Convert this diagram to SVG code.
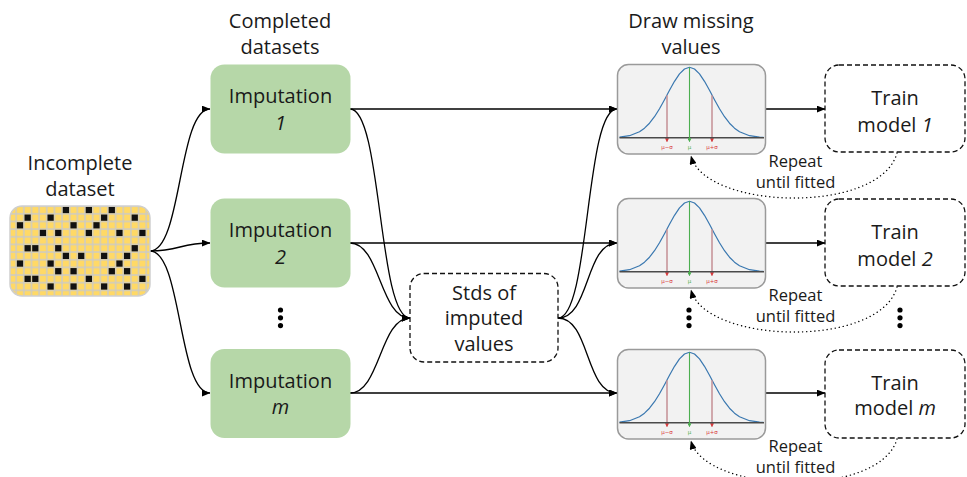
<svg xmlns="http://www.w3.org/2000/svg" xmlns:xlink="http://www.w3.org/1999/xlink" width="967" height="477" viewBox="0 0 967 477">
  <style>
    .lbl { font-family: "Open Sans", "Liberation Sans", sans-serif; font-size: 20px; fill: #1a1a1a; text-anchor: middle; }
    .small { font-family: "Open Sans", "Liberation Sans", sans-serif; font-size: 16.5px; fill: #1a1a1a; text-anchor: middle; }
    .it { font-style: italic; }
    .imp { fill: #b6d7a8; }
    .dash { fill: #ffffff; stroke: #111; stroke-width: 1.3; stroke-dasharray: 5 3; }
    .plot { fill: #f2f2f2; stroke: #9a9a9a; stroke-width: 1.5; }
    .edge { fill: none; stroke: #000; stroke-width: 1.3; marker-end: url(#arr); }
    .loop { fill: none; stroke: #000; stroke-width: 1.4; stroke-dasharray: 0.1 4; stroke-linecap: round; marker-end: url(#arr); }
    .tick { font-family: "DejaVu Sans", sans-serif; font-size: 5.5px; text-anchor: middle; }
  </style>
  <defs>
    <marker id="arr" viewBox="0 0 10 8" refX="9.5" refY="4" markerWidth="9" markerHeight="7" orient="auto" markerUnits="userSpaceOnUse">
      <path d="M0,0 L10,4 L0,8 z" fill="#000"/>
    </marker>
    <marker id="tipR" viewBox="0 0 6 6" refX="5" refY="3" markerWidth="4" markerHeight="4" orient="auto" markerUnits="userSpaceOnUse">
      <path d="M0,0 L6,3 L0,6 z" fill="#d9383a"/>
    </marker>
    <marker id="tipG" viewBox="0 0 6 6" refX="5" refY="3" markerWidth="4" markerHeight="4" orient="auto" markerUnits="userSpaceOnUse">
      <path d="M0,0 L6,3 L0,6 z" fill="#4caf50"/>
    </marker>
    <pattern id="cells" patternUnits="userSpaceOnUse" x="8.525" y="206.175" width="7.65" height="7.65">
      <rect x="0.7" y="0.7" width="6.25" height="6.25" fill="#ffd966"/>
    </pattern>
    <clipPath id="gridClip">
      <rect x="10" y="206" width="140" height="90" rx="12"/>
    </clipPath>
    <rect id="blk" width="6.25" height="6.25" fill="#111"/>
    <!-- normal density curve drawn in box-local coordinates (148 x 89.5) -->
    <g id="bell">
      <polyline fill="none" stroke="#3a78b0" stroke-width="1.2" stroke-linejoin="round"
        points="2,72.64 12,71.19 22,67.24 27,63.67 32,58.71 37,52.21 42,44.26 47,35.23 52,25.77 57,16.83 62,9.42 67,4.52 72,2.8 77,4.52 82,9.42 87,16.83 92,25.77 97,35.23 102,44.26 107,52.21 112,58.71 117,63.67 122,67.24 132,71.19 142,72.64 146,72.9"/>
      <line x1="49.5" y1="30.8" x2="49.5" y2="77" stroke="#c48f94" stroke-width="1.5" marker-end="url(#tipR)"/>
      <line x1="94.5" y1="30.8" x2="94.5" y2="77" stroke="#c48f94" stroke-width="1.5" marker-end="url(#tipR)"/>
      <line x1="2" y1="73.2" x2="146.5" y2="73.2" stroke="#4a4a4a" stroke-width="1.5"/>
      <line x1="72" y1="2.8" x2="72" y2="77" stroke="#4caf50" stroke-width="1.1" marker-end="url(#tipG)"/>
      <text class="tick" x="49.5" y="84" fill="#d9383a">μ−σ</text>
      <text class="tick" x="72" y="84" fill="#4caf50">μ</text>
      <text class="tick" x="94.5" y="84" fill="#d9383a">μ+σ</text>
    </g>
  </defs>

  <rect width="967" height="477" fill="#ffffff"/>

  <!-- column headings -->
  <text class="lbl" x="280" y="28">Completed</text>
  <text class="lbl" x="280" y="54">datasets</text>
  <text class="lbl" x="691" y="28">Draw missing</text>
  <text class="lbl" x="691" y="54">values</text>

  <!-- connectors -->
  <g id="connectors">
    <path class="edge" d="M150,251 C182,251 178,109 210,109"/>
    <path class="edge" d="M150,251 C180,251 180,243 210,243"/>
    <path class="edge" d="M150,251 C182,251 178,393 210,393"/>
    <path class="edge" d="M350,109 L617,109"/>
    <path class="edge" d="M350,243 L617,243"/>
    <path class="edge" d="M350,393 L617,393"/>
    <path class="edge" d="M350,109 C382,109 378,318 410,318"/>
    <path class="edge" d="M350,243 C380,243 380,318 410,318"/>
    <path class="edge" d="M350,393 C380,393 380,318 410,318"/>
    <path class="edge" d="M558,318 C590,318 585,109 617,109"/>
    <path class="edge" d="M558,318 C590,318 585,243 617,243"/>
    <path class="edge" d="M558,318 C590,318 585,393 617,393"/>
    <path class="edge" d="M765.5,109 L825,109"/>
    <path class="edge" d="M765.5,243 L825,243"/>
    <path class="edge" d="M765.5,393 L825,393"/>
    <path class="loop" d="M897,153 C880,215 705,210 691,156"/>
    <path class="loop" d="M897,287 C880,349 705,344 691,290"/>
    <path class="loop" d="M897,439 C880,499 705,494 691,441"/>
  </g>

  <!-- incomplete dataset -->
  <g id="dataset">
    <text class="lbl" x="80" y="170">Incomplete</text>
    <text class="lbl" x="80" y="196">dataset</text>
    <g clip-path="url(#gridClip)">
      <rect x="8" y="204" width="144" height="94" fill="#c9c9c9"/>
      <rect x="8" y="204" width="144" height="94" fill="url(#cells)"/>
      <use href="#blk" x="62.78" y="206.88"/><use href="#blk" x="85.73" y="206.88"/><use href="#blk" x="108.68" y="206.88"/>
      <use href="#blk" x="24.53" y="214.53"/><use href="#blk" x="47.48" y="214.53"/><use href="#blk" x="101.03" y="214.53"/><use href="#blk" x="131.63" y="214.53"/>
      <use href="#blk" x="16.88" y="222.18"/><use href="#blk" x="70.43" y="222.18"/><use href="#blk" x="93.38" y="222.18"/>
      <use href="#blk" x="39.83" y="229.83"/><use href="#blk" x="55.13" y="229.83"/><use href="#blk" x="85.73" y="229.83"/><use href="#blk" x="116.33" y="229.83"/><use href="#blk" x="139.28" y="229.83"/>
      <use href="#blk" x="24.53" y="245.13"/><use href="#blk" x="32.18" y="245.13"/><use href="#blk" x="55.13" y="245.13"/><use href="#blk" x="131.63" y="245.13"/>
      <use href="#blk" x="62.78" y="252.78"/><use href="#blk" x="78.08" y="252.78"/><use href="#blk" x="101.03" y="252.78"/><use href="#blk" x="123.98" y="252.78"/>
      <use href="#blk" x="16.88" y="260.43"/><use href="#blk" x="47.48" y="260.43"/><use href="#blk" x="116.33" y="260.43"/>
      <use href="#blk" x="55.13" y="268.08"/><use href="#blk" x="70.43" y="268.08"/><use href="#blk" x="108.68" y="268.08"/><use href="#blk" x="123.98" y="268.08"/>
      <use href="#blk" x="24.53" y="275.73"/><use href="#blk" x="32.18" y="275.73"/><use href="#blk" x="85.73" y="275.73"/><use href="#blk" x="139.28" y="275.73"/>
      <use href="#blk" x="47.48" y="283.38"/><use href="#blk" x="70.43" y="283.38"/><use href="#blk" x="101.03" y="283.38"/><use href="#blk" x="123.98" y="283.38"/>
    </g>
    <rect x="10" y="206" width="140" height="90" rx="12" fill="none" stroke="#cfcfcf" stroke-width="1.5"/>
  </g>

  <!-- imputations -->
  <g id="imputation-1">
    <rect class="imp" x="210.5" y="64.5" width="140" height="89" rx="14"/>
    <text class="lbl" x="280.5" y="103">Imputation</text>
    <text class="lbl it" x="280.5" y="130">1</text>
  </g>
  <g id="imputation-2">
    <rect class="imp" x="210.5" y="198.5" width="140" height="89" rx="14"/>
    <text class="lbl" x="280.5" y="237">Imputation</text>
    <text class="lbl it" x="280.5" y="264">2</text>
  </g>
  <g id="imputation-gap">
    <circle cx="280.5" cy="310" r="2.6" fill="#000"/>
    <circle cx="280.5" cy="317.8" r="2.6" fill="#000"/>
    <circle cx="280.5" cy="325.6" r="2.6" fill="#000"/>
  </g>
  <g id="imputation-m">
    <rect class="imp" x="210.5" y="349" width="140" height="89" rx="14"/>
    <text class="lbl" x="280.5" y="387.5">Imputation</text>
    <text class="lbl it" x="280.5" y="414">m</text>
  </g>

  <!-- standard deviations -->
  <g id="stds">
    <rect class="dash" x="410" y="273.5" width="148" height="88.5" rx="14"/>
    <text class="lbl" x="484" y="299.5">Stds of</text>
    <text class="lbl" x="484" y="325">imputed</text>
    <text class="lbl" x="484" y="351">values</text>
  </g>

  <!-- draws from the distribution -->
  <g id="draw-1">
    <rect class="plot" x="617.5" y="64.5" width="148" height="89.5" rx="11"/>
    <use href="#bell" x="617.5" y="64.5"/>
  </g>
  <g id="draw-2">
    <rect class="plot" x="617.5" y="198.5" width="148" height="89.5" rx="11"/>
    <use href="#bell" x="617.5" y="198.5"/>
  </g>
  <g id="draw-gap">
    <circle cx="689" cy="310" r="2.6" fill="#000"/>
    <circle cx="689" cy="317.8" r="2.6" fill="#000"/>
    <circle cx="689" cy="325.6" r="2.6" fill="#000"/>
  </g>
  <g id="draw-m">
    <rect class="plot" x="617.5" y="349.5" width="148" height="89.5" rx="11"/>
    <use href="#bell" x="617.5" y="349.5"/>
  </g>

  <!-- model training -->
  <g id="train-1">
    <rect class="dash" x="825" y="65" width="140" height="87" rx="14"/>
    <text class="lbl" x="895" y="105">Train</text>
    <text class="lbl" x="895" y="131.5">model <tspan class="it">1</tspan></text>
    <text class="small" x="795.5" y="166.5">Repeat</text>
    <text class="small" x="795.5" y="187.5">until fitted</text>
  </g>
  <g id="train-2">
    <rect class="dash" x="825" y="199" width="140" height="87" rx="14"/>
    <text class="lbl" x="895" y="239">Train</text>
    <text class="lbl" x="895" y="265.5">model <tspan class="it">2</tspan></text>
    <text class="small" x="795.5" y="300.5">Repeat</text>
    <text class="small" x="795.5" y="321.5">until fitted</text>
  </g>
  <g id="train-gap">
    <circle cx="900" cy="310" r="2.6" fill="#000"/>
    <circle cx="900" cy="317.8" r="2.6" fill="#000"/>
    <circle cx="900" cy="325.6" r="2.6" fill="#000"/>
  </g>
  <g id="train-m">
    <rect class="dash" x="825" y="350" width="140" height="88" rx="14"/>
    <text class="lbl" x="895" y="389.5">Train</text>
    <text class="lbl" x="895" y="415">model <tspan class="it">m</tspan></text>
    <text class="small" x="795.5" y="451.5">Repeat</text>
    <text class="small" x="795.5" y="472.5">until fitted</text>
  </g>
</svg>
